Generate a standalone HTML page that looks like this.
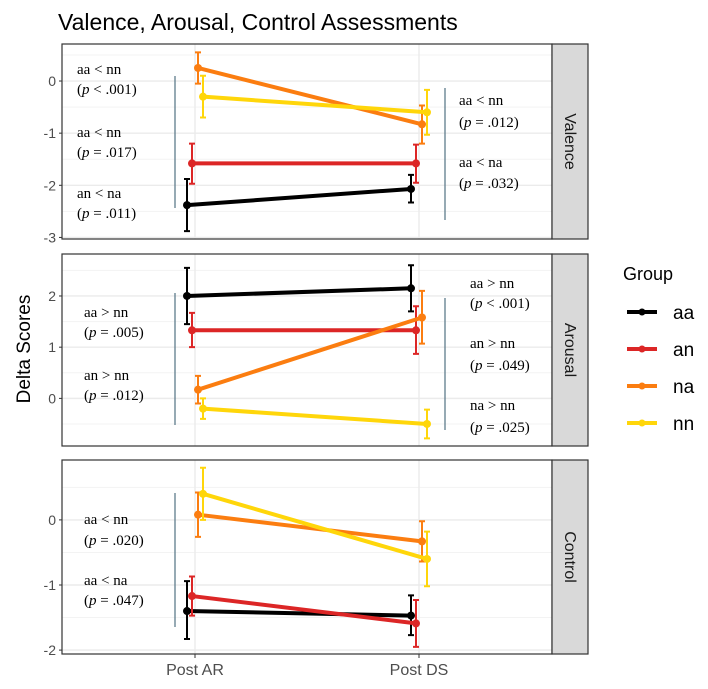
<!DOCTYPE html>
<html><head><meta charset="utf-8"><style>
html,body{margin:0;padding:0;background:#fff;}
svg{display:block;font-family:"Liberation Sans",sans-serif;}
.ann{font-family:"Liberation Serif",serif;font-size:15px;fill:#000;}
</style></head><body>
<svg id="chart" width="708" height="689" viewBox="0 0 708 689" xmlns="http://www.w3.org/2000/svg">
<text x="58" y="30" font-size="23" fill="#000">Valence, Arousal, Control Assessments</text>
<text transform="translate(30,349) rotate(-90)" text-anchor="middle" font-size="19" fill="#000">Delta Scores</text>
<g id="plots"></g>
<g>
<text x="623" y="280" font-size="18" fill="#000">Group</text>
<g id="legend"></g>
</g>
</svg>
<script>
const groups = ["aa","an","na","nn"];
const colors = ["#000000","#dc2626","#fb7d10","#ffd60a"];
const categories = ["Post AR","Post DS"];
const panelNames = ["Valence","Arousal","Control"];
// values [group][timepoint]
const valenceMean = [[-2.38,-2.07],[-1.58,-1.58],[0.25,-0.83],[-0.30,-0.60]];
const valenceLo   = [[-2.88,-2.33],[-1.97,-1.95],[-0.05,-1.20],[-0.70,-1.03]];
const valenceHi   = [[-1.88,-1.80],[-1.20,-1.22],[0.55,-0.47],[0.10,-0.17]];
const arousalMean = [[2.00,2.15],[1.33,1.33],[0.17,1.58],[-0.20,-0.50]];
const arousalLo   = [[1.45,1.70],[1.00,0.87],[-0.10,1.07],[-0.40,-0.78]];
const arousalHi   = [[2.55,2.60],[1.67,1.80],[0.44,2.10],[0.00,-0.22]];
const controlMean = [[-1.40,-1.47],[-1.17,-1.59],[0.08,-0.33],[0.40,-0.60]];
const controlLo   = [[-1.83,-1.77],[-1.47,-1.95],[-0.26,-0.64],[0.00,-1.02]];
const controlHi   = [[-0.94,-1.16],[-0.87,-1.23],[0.42,-0.02],[0.80,-0.18]];
const valenceTicks = [0,-1,-2,-3];
const arousalTicks = [2,1,0];
const controlTicks = [0,-1,-2];

const NS="http://www.w3.org/2000/svg";
function mk(tag,attrs,parent){const e=document.createElementNS(NS,tag);for(const k in attrs)e.setAttribute(k,attrs[k]);parent.appendChild(e);return e;}
const plots=document.getElementById('plots');
const PL=62,PR=552,SR=588;
const xPos=[195,419];
const dodge=[-8,-3,3,8];
function xScale(c,g){return xPos[c]+dodge[g];}

const panels=[
 {name:"Valence",top:44,bot:239,vmax:0.71,vmin:-3.03,mean:valenceMean,lo:valenceLo,hi:valenceHi,ticks:valenceTicks,
  lines:[[175,76,208],[445,88,220]],
  texts:[[77,69,"aa < nn"],[77,89,"(p < .001)"],[77,132,"aa < nn"],[77,152,"(p = .017)"],[77,193,"an < na"],[77,213,"(p = .011)"],
         [459,100,"aa < nn"],[459,122,"(p = .012)"],[459,162,"aa < na"],[459,183,"(p = .032)"]]},
 {name:"Arousal",top:254,bot:446,vmax:2.82,vmin:-0.93,mean:arousalMean,lo:arousalLo,hi:arousalHi,ticks:arousalTicks,
  lines:[[175,293,425],[445,298,430]],
  texts:[[84,312,"aa > nn"],[84,332,"(p = .005)"],[84,375,"an > nn"],[84,395,"(p = .012)"],
         [470,283,"aa > nn"],[470,303,"(p < .001)"],[470,343,"an > nn"],[470,365,"(p = .049)"],[470,405,"na > nn"],[470,427,"(p = .025)"]]},
 {name:"Control",top:460,bot:654,vmax:0.92,vmin:-2.06,mean:controlMean,lo:controlLo,hi:controlHi,ticks:controlTicks,
  lines:[[175,493,627]],
  texts:[[84,519,"aa < nn"],[84,540,"(p = .020)"],[84,580,"aa < na"],[84,600,"(p = .047)"]]}
];

panels.forEach((p,pi)=>{
  const g=mk('g',{},plots);
  
  
  const y=v=>p.top+(p.vmax-v)/(p.vmax-p.vmin)*(p.bot-p.top);
  mk('rect',{x:PL,y:p.top,width:PR-PL,height:p.bot-p.top,fill:'#fff'},g);
  for(let v=Math.ceil(p.vmin*2)/2;v<=p.vmax;v+=0.5){
    if(Math.abs(v-Math.round(v))>0.01){mk('line',{x1:PL,x2:PR,y1:y(v),y2:y(v),stroke:'#f3f3f3','stroke-width':1},g);}
  }
  p.ticks.forEach(t=>{
    const gl=mk('line',{x1:PL,x2:PR,y1:y(t),y2:y(t),stroke:'#ebebeb','stroke-width':1.4},g);
    
    
    mk('line',{x1:PL-3,x2:PL,y1:y(t),y2:y(t),stroke:'#333','stroke-width':1},g);
    const tl=mk('text',{x:PL-6,y:y(t)+5,'text-anchor':'end','font-size':14,fill:'#4d4d4d'},g);
    tl.textContent=(t<0?'-'+Math.abs(t):String(t));
    
    
  });
  xPos.forEach(xx=>{mk('line',{x1:xx,x2:xx,y1:p.top,y2:p.bot,stroke:'#ebebeb','stroke-width':1.4},g);});
  p.lines.forEach(l=>{
    const al=mk('line',{x1:l[0],x2:l[0],y1:l[1],y2:l[2],stroke:'#5f7c8c','stroke-width':1.3},g);
    
    
  });
  p.texts.forEach(t=>{
    const te=mk('text',{x:t[0],y:t[1]+5,class:'ann'},g);
    
    
    const s=t[2];
    if(s.indexOf('p ')>=0){
      te.appendChild(document.createTextNode('('));
      const it=mk('tspan',{'font-style':'italic'},te);it.textContent='p';
      te.appendChild(document.createTextNode(s.slice(2)));
    } else te.textContent=s;
  });
  groups.forEach((gr,gi)=>{
    const sg=mk('g',{},g);
    
    
    const ln=mk('line',{x1:xScale(0,gi),y1:y(p.mean[gi][0]),x2:xScale(1,gi),y2:y(p.mean[gi][1]),stroke:colors[gi],'stroke-width':4},sg);
    
    
    for(let c=0;c<2;c++){
      const xx=xScale(c,gi);
      const eb=mk('path',{d:`M${xx},${y(p.lo[gi][c])}V${y(p.hi[gi][c])}M${xx-3},${y(p.lo[gi][c])}H${xx+3}M${xx-3},${y(p.hi[gi][c])}H${xx+3}`,stroke:colors[gi],'stroke-width':2,fill:'none'},sg);
      
      
      const pt=mk('circle',{cx:xx,cy:y(p.mean[gi][c]),r:4,fill:colors[gi]},sg);
      
      
    }
  });
  mk('rect',{x:PL,y:p.top,width:PR-PL,height:p.bot-p.top,fill:'none',stroke:'#333','stroke-width':1.2},g);
  const st=mk('rect',{x:PR,y:p.top,width:SR-PR,height:p.bot-p.top,fill:'#d9d9d9',stroke:'#333','stroke-width':1.2},g);
  
  
  const stt=mk('text',{transform:`translate(${(PR+SR)/2-5},${(p.top+p.bot)/2}) rotate(90)`,'text-anchor':'middle','font-size':16,fill:'#1a1a1a'},g);
  stt.textContent=p.name;
  
  
});
const last=panels[2];
categories.forEach((c,ci)=>{
  mk('line',{x1:xPos[ci],x2:xPos[ci],y1:last.bot,y2:last.bot+4,stroke:'#333','stroke-width':1},plots);
  const t=mk('text',{x:xPos[ci],y:last.bot+21,'text-anchor':'middle','font-size':16,fill:'#4d4d4d'},plots);
  t.textContent=c;
  
  
});
const leg=document.getElementById('legend');
groups.forEach((gr,gi)=>{
  const yy=312+gi*37;
  const e=mk('g',{},leg);
  
  
  mk('line',{x1:627,x2:657,y1:yy,y2:yy,stroke:colors[gi],'stroke-width':4},e);
  mk('circle',{cx:642,cy:yy,r:3.5,fill:colors[gi]},e);
  const t=mk('text',{x:673,y:yy+7,'font-size':19,fill:'#000'},e);
  t.textContent=gr;
});
</script>
</body></html>
